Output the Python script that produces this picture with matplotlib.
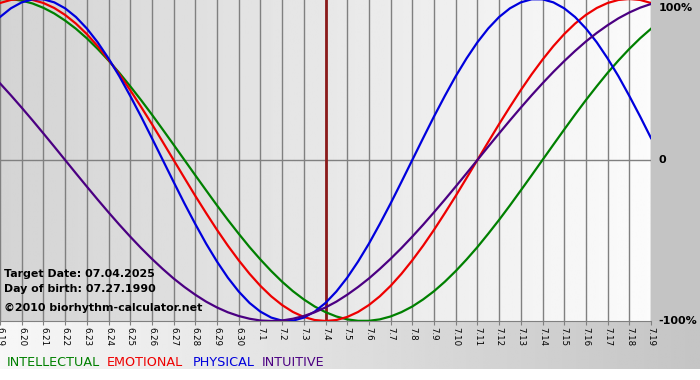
import numpy as np
import matplotlib.pyplot as plt
from matplotlib.patches import Rectangle

# day labels, 6.19 .. 7.19
days = ['6.19', '6.20', '6.21', '6.22', '6.23', '6.24', '6.25', '6.26', '6.27', '6.28',
        '6.29', '6.30', '7.1', '7.2', '7.3', '7.4', '7.5', '7.6', '7.7', '7.8', '7.9',
        '7.10', '7.11', '7.12', '7.13', '7.14', '7.15', '7.16', '7.17', '7.18', '7.19']
target_day = '7.4'

# values every half day, -1 .. 1
intellectual = [0.999, 0.999, 0.990, 0.972, 0.945, 0.910, 0.866, 0.815, 0.756, 0.690,
                0.618, 0.541, 0.458, 0.372, 0.282, 0.189, 0.095, 0.000, -0.095, -0.189,
                -0.282, -0.372, -0.458, -0.541, -0.618, -0.690, -0.756, -0.815, -0.866,
                -0.910, -0.945, -0.972, -0.990, -0.999, -0.999, -0.990, -0.972, -0.945,
                -0.910, -0.866, -0.815, -0.756, -0.690, -0.618, -0.541, -0.458, -0.372,
                -0.282, -0.189, -0.095, 0.000, 0.095, 0.189, 0.282, 0.372, 0.458, 0.541,
                0.618, 0.690, 0.756, 0.815]
emotional = [0.975, 0.994, 1.000, 0.994, 0.975, 0.944, 0.901, 0.847, 0.782, 0.707, 0.623,
             0.532, 0.434, 0.330, 0.223, 0.112, 0.000, -0.112, -0.223, -0.330, -0.434,
             -0.532, -0.623, -0.707, -0.782, -0.847, -0.901, -0.944, -0.975, -0.994,
             -1.000, -0.994, -0.975, -0.944, -0.901, -0.847, -0.782, -0.707, -0.623,
             -0.532, -0.434, -0.330, -0.223, -0.112, 0.000, 0.112, 0.223, 0.330, 0.434,
             0.532, 0.623, 0.707, 0.782, 0.847, 0.901, 0.944, 0.975, 0.994, 1.000,
             0.994, 0.975]
physical = [0.888, 0.942, 0.979, 0.998, 0.998, 0.979, 0.942, 0.888, 0.817, 0.731, 0.631,
            0.520, 0.398, 0.270, 0.136, 0.000, -0.136, -0.270, -0.398, -0.520, -0.631,
            -0.731, -0.817, -0.888, -0.942, -0.979, -0.998, -0.998, -0.979, -0.942,
            -0.888, -0.817, -0.731, -0.631, -0.520, -0.398, -0.270, -0.136, 0.000,
            0.136, 0.270, 0.398, 0.520, 0.631, 0.731, 0.817, 0.888, 0.942, 0.979,
            0.998, 0.998, 0.979, 0.942, 0.888, 0.817, 0.731, 0.631, 0.520, 0.398,
            0.270, 0.136]
intuitive = [0.476, 0.402, 0.325, 0.246, 0.165, 0.083, 0.000, -0.083, -0.165, -0.246,
             -0.325, -0.402, -0.476, -0.547, -0.614, -0.677, -0.736, -0.789, -0.837,
             -0.880, -0.916, -0.946, -0.969, -0.986, -0.997, -1.000, -0.997, -0.986,
             -0.969, -0.946, -0.916, -0.880, -0.837, -0.789, -0.736, -0.677, -0.614,
             -0.547, -0.476, -0.402, -0.325, -0.246, -0.165, -0.083, 0.000, 0.083,
             0.165, 0.246, 0.325, 0.402, 0.476, 0.547, 0.614, 0.677, 0.736, 0.789,
             0.837, 0.880, 0.916, 0.946, 0.969]

series = [('INTELLECTUAL', intellectual, '#008000'),
          ('EMOTIONAL', emotional, '#ee0000'),
          ('PHYSICAL', physical, '#0000dd'),
          ('INTUITIVE', intuitive, '#4b0082')]

fig = plt.figure(figsize=(7, 3.8), dpi=100)

# figure background: gray right margin, gradient strip under the plot
bg = fig.add_axes([0, 0, 1, 1])
bg.axis('off')
bg.set_xlim(0, 1)
bg.set_ylim(0, 1)
bg.imshow(np.linspace(0.97, 0.77, 256).reshape(1, -1), cmap='gray', vmin=0, vmax=1,
          extent=[0, 1, 0.029, 0.156], aspect='auto')
bg.add_patch(Rectangle((0.93, 0.155), 0.07, 0.845, color='#c4c4c4', lw=0))

ax = fig.add_axes([0, 0.1553, 0.93, 0.8474])
ax.imshow(np.linspace(0.83, 0.985, 256).reshape(1, -1), cmap='gray', vmin=0, vmax=1,
          extent=[0, 30, -1, 1], aspect='auto', zorder=0)
ax.set_xlim(0, 30)
ax.set_ylim(-1, 1)

x = np.arange(len(days))
for d in x:
    ax.axvline(d, color='#808080', lw=1, zorder=1)
ax.axhline(0, color='#808080', lw=1, zorder=1)
ax.axvline(days.index(target_day), color='#8b1a1a', lw=2, zorder=2)

xh = np.arange(len(intellectual)) / 2
for name, vals, col in series:
    ax.plot(xh, vals, color=col, lw=1.6, zorder=3)

for s in ['left', 'top', 'right']:
    ax.spines[s].set_visible(False)
ax.spines['bottom'].set_color('#808080')
ax.set_xticks(x)
ax.set_xticklabels(days, rotation=-90, fontsize=6.2)
ax.tick_params(axis='x', length=3, color='#808080', pad=1.5)
ax.set_yticks([])

# right side scale labels
for yv, lab in [(0.945, '100%'), (0, '0'), (-1, '-100%')]:
    ax.text(30.35, yv, lab, ha='left', va='center', fontsize=8, fontweight='bold',
            clip_on=False)

# info text
fig.text(0.005, 0.271, 'Target Date: 07.04.2025', fontsize=7.9, fontweight='bold')
fig.text(0.005, 0.232, 'Day of birth: 07.27.1990', fontsize=7.9, fontweight='bold')
fig.text(0.005, 0.182, '\u00a92010 biorhythm-calculator.net', fontsize=7.9, fontweight='bold')

# legend words
for (name, vals, col), xp in zip(series, [7, 107, 193, 262]):
    fig.text(xp / 700, 0.038, name, color=col, fontsize=9.2)

fig.savefig('out.png', dpi=100)
